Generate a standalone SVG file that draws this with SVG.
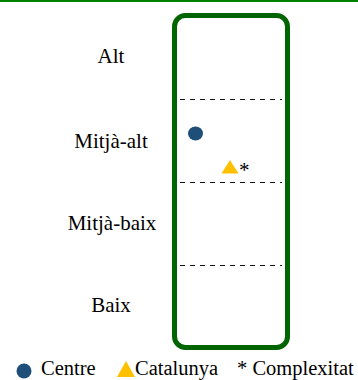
<svg xmlns="http://www.w3.org/2000/svg" width="358" height="380" viewBox="0 0 358 380">
<style>
.lbl{font-family:"Liberation Serif","Times New Roman",serif;font-size:21px;fill:#000;}
.leg{font-family:"Liberation Serif","Times New Roman",serif;font-size:20.5px;fill:#000;}
.dash{stroke:#111;stroke-width:1;stroke-dasharray:5 5;fill:none;}
</style>
<rect x="0" y="0" width="358" height="380" fill="#fff"/>
<rect x="0" y="0" width="358" height="2" fill="#008000"/>
<g id="frame">
<rect x="174.5" y="15.5" width="113" height="332" rx="11" ry="11" fill="none" stroke="#006400" stroke-width="5"/>
</g>
<g id="connectors">
<line class="dash" x1="180" y1="99.5" x2="282" y2="99.5"/>
<line class="dash" x1="180" y1="182.5" x2="282" y2="182.5"/>
<line class="dash" x1="180" y1="265.5" x2="282" y2="265.5"/>
</g>
<g id="labels">
<text class="lbl" x="111" y="63" text-anchor="middle">Alt</text>
<text class="lbl" x="111" y="148" text-anchor="middle">Mitjà-alt</text>
<text class="lbl" x="112" y="230" text-anchor="middle">Mitjà-baix</text>
<text class="lbl" x="111" y="312" text-anchor="middle">Baix</text>
</g>
<g id="centre">
<ellipse cx="195.5" cy="133.5" rx="7.5" ry="7" fill="#1F4E79"/>
</g>
<g id="catalunya">
<polygon points="230,160 238.5,173.5 221.5,173.5" fill="#FFC000"/>
<text class="lbl" x="239" y="177">*</text>
</g>
<g id="legend">
<circle cx="24" cy="371" r="7.5" fill="#1F4E79"/>
<text class="leg" x="41" y="375">Centre</text>
<polygon points="126,361 135,377 117,377" fill="#FFC000"/>
<text class="leg" x="135" y="375">Catalunya</text>
<text class="leg" x="237" y="375">* Complexitat</text>
</g>
</svg>
